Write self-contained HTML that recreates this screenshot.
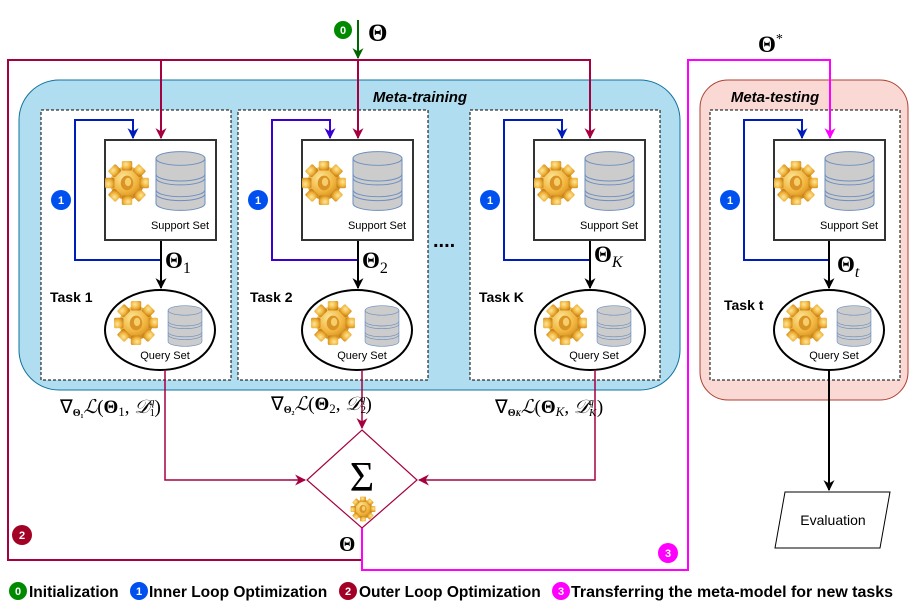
<!DOCTYPE html>
<html><head><meta charset="utf-8"><style>
body{margin:0;background:#fff}
svg{display:block;font-family:"Liberation Sans",sans-serif}
.m{font-family:"Liberation Serif",serif}
</style></head><body>
<svg width="909" height="607" viewBox="0 0 909 607" xmlns="http://www.w3.org/2000/svg">
<defs>
<radialGradient id="gg" cx="40%" cy="35%" r="70%"><stop offset="0" stop-color="#fde79a"/><stop offset="0.6" stop-color="#f0b33a"/><stop offset="1" stop-color="#c9821a"/></radialGradient>
<symbol id="gear" viewBox="-22 -22 44 44">
<g fill="url(#gg)">
<circle r="16"/>
<g id="t"><rect x="-5" y="-21" width="10" height="9" rx="1.5"/></g>
<use href="#t" transform="rotate(45)"/><use href="#t" transform="rotate(90)"/><use href="#t" transform="rotate(135)"/><use href="#t" transform="rotate(180)"/><use href="#t" transform="rotate(225)"/><use href="#t" transform="rotate(270)"/><use href="#t" transform="rotate(315)"/>
</g>
<ellipse rx="6" ry="7" fill="#d99425"/><ellipse cx="1" cy="-1" rx="3" ry="4" fill="#f6cf6b"/>
</symbol>
<symbol id="db" viewBox="0 0 52 62">
<path d="M1 8 A25 7 0 0 1 51 8 V54 A25 7 0 0 1 1 54 Z" fill="#cccccc" stroke="#6c8ebf"/>
<path d="M1 8 A25 7 0 0 0 51 8 M1 24 A25 7 0 0 0 51 24 M1 28 A25 7 0 0 0 51 28 M1 40 A25 7 0 0 0 51 40 M1 44 A25 7 0 0 0 51 44" fill="none" stroke="#6c8ebf"/>
</symbol>
<marker id="ak" viewBox="0 0 10 10" refX="9" refY="5" markerWidth="11" markerHeight="11" orient="auto" markerUnits="userSpaceOnUse"><path d="M0 0 L10 5 L0 10 L3 5Z" fill="#000"/></marker>
<marker id="ac" viewBox="0 0 10 10" refX="9" refY="5" markerWidth="11" markerHeight="11" orient="auto" markerUnits="userSpaceOnUse"><path d="M0 0 L10 5 L0 10 L3 5Z" fill="#a50040"/></marker>
<marker id="ab" viewBox="0 0 10 10" refX="9" refY="5" markerWidth="11" markerHeight="11" orient="auto" markerUnits="userSpaceOnUse"><path d="M0 0 L10 5 L0 10 L3 5Z" fill="#001dbc"/></marker>
<marker id="ap" viewBox="0 0 10 10" refX="9" refY="5" markerWidth="11" markerHeight="11" orient="auto" markerUnits="userSpaceOnUse"><path d="M0 0 L10 5 L0 10 L3 5Z" fill="#ff00ff"/></marker>
<marker id="agr" viewBox="0 0 10 10" refX="9" refY="5" markerWidth="11" markerHeight="11" orient="auto" markerUnits="userSpaceOnUse"><path d="M0 0 L10 5 L0 10 L3 5Z" fill="#006600"/></marker>
<marker id="av" viewBox="0 0 10 10" refX="9" refY="5" markerWidth="11" markerHeight="11" orient="auto" markerUnits="userSpaceOnUse"><path d="M0 0 L10 5 L0 10 L3 5Z" fill="#3a00d0"/></marker>
</defs>

<rect x="19" y="80" width="661" height="310" rx="40" fill="#b1ddf0" stroke="#10739e"/>
<rect x="700" y="80" width="208" height="320" rx="28" fill="#fad9d5" stroke="#ae4132"/>
<text x="420" y="102" font-size="15" font-weight="bold" font-style="italic" text-anchor="middle">Meta-training</text>
<text x="775" y="102" font-size="15" font-weight="bold" font-style="italic" text-anchor="middle">Meta-testing</text>

<g fill="#fff" stroke="#000" stroke-dasharray="3,2">
<rect x="41" y="110" width="190" height="270"/>
<rect x="238" y="110" width="190" height="270"/>
<rect x="470" y="110" width="190" height="270"/>
<rect x="710" y="110" width="190" height="270"/>
</g>
<text x="433" y="247" font-size="20" font-weight="bold">....</text>

<g fill="none" stroke="#a50040" stroke-width="2">
<path d="M362 528 V560 H8 V60 H590 V138" marker-end="url(#ac)"/>
<path d="M161 60 V138" marker-end="url(#ac)"/>
<path d="M358 60 V138" marker-end="url(#ac)"/>
</g>
<path d="M358 20 V58" stroke="#006600" stroke-width="2" marker-end="url(#agr)"/>
<circle cx="343" cy="30" r="9" fill="#008a00"/><text x="343" y="34" font-size="11" font-weight="bold" fill="#fff" text-anchor="middle">0</text>
<text x="368" y="41" font-size="25" font-weight="bold" class="m">Θ</text>

<path d="M161 260 H75 V120 H133 V138" fill="none" stroke="#001dbc" stroke-width="2" marker-end="url(#ab)"/>
<path d="M358 260 H272 V120 H330 V138" fill="none" stroke="#3a00d0" stroke-width="2" marker-end="url(#av)"/>
<path d="M590 260 H504 V120 H562 V138" fill="none" stroke="#001dbc" stroke-width="2" marker-end="url(#ab)"/>
<path d="M829 260 H744 V120 H802 V138" fill="none" stroke="#001dbc" stroke-width="2" marker-end="url(#ab)"/>

<g stroke="#000" stroke-width="2" fill="none">
<path d="M161 240 V288" marker-end="url(#ak)"/>
<path d="M358 240 V288" marker-end="url(#ak)"/>
<path d="M590 240 V288" marker-end="url(#ak)"/>
<path d="M829 240 V288" marker-end="url(#ak)"/>
<path d="M829 370 V490" marker-end="url(#ak)"/>
</g>

<g fill="#fff" stroke="#333" stroke-width="2">
<rect x="105" y="140" width="111" height="100"/>
<rect x="302" y="140" width="111" height="100"/>
<rect x="534" y="140" width="111" height="100"/>
<rect x="774" y="140" width="111" height="100"/>
<ellipse cx="160" cy="330" rx="55" ry="40" stroke="#000"/>
<ellipse cx="357" cy="330" rx="55" ry="40" stroke="#000"/>
<ellipse cx="590" cy="330" rx="55" ry="40" stroke="#000"/>
<ellipse cx="829" cy="330" rx="55" ry="40" stroke="#000"/>
</g>

<g font-size="11" text-anchor="middle">
<use href="#gear" x="104" y="156" width="46" height="54"/><use href="#db" x="155" y="150" width="51" height="62"/><text x="180" y="229">Support Set</text>
<use href="#gear" x="301" y="156" width="46" height="54"/><use href="#db" x="352" y="150" width="51" height="62"/><text x="377" y="229">Support Set</text>
<use href="#gear" x="533" y="156" width="46" height="54"/><use href="#db" x="584" y="150" width="51" height="62"/><text x="609" y="229">Support Set</text>
<use href="#gear" x="773" y="156" width="46" height="54"/><use href="#db" x="824" y="150" width="51" height="62"/><text x="849" y="229">Support Set</text>

<use href="#gear" x="113" y="296" width="46" height="54"/><use href="#db" x="165" y="305" width="40" height="42"/><text x="165" y="359">Query Set</text>
<use href="#gear" x="310" y="296" width="46" height="54"/><use href="#db" x="362" y="305" width="40" height="42"/><text x="362" y="359">Query Set</text>
<use href="#gear" x="542" y="296" width="46" height="54"/><use href="#db" x="594" y="305" width="40" height="42"/><text x="594" y="359">Query Set</text>
<use href="#gear" x="782" y="296" width="46" height="54"/><use href="#db" x="834" y="305" width="40" height="42"/><text x="834" y="359">Query Set</text>
</g>

<g font-size="14" font-weight="bold">
<text x="50" y="302">Task 1</text><text x="250" y="302">Task 2</text><text x="479" y="302">Task K</text><text x="724" y="310">Task t</text>
</g>
<g class="m" font-size="23">
<text x="165" y="268" font-weight="bold">Θ<tspan font-weight="normal" font-size="16" dy="5">1</tspan></text>
<text x="362" y="268" font-weight="bold">Θ<tspan font-weight="normal" font-size="16" dy="5">2</tspan></text>
<text x="594" y="262" font-weight="bold">Θ<tspan font-weight="normal" font-style="italic" font-size="16" dy="5">K</tspan></text>
<text x="837" y="272" font-weight="bold">Θ<tspan font-weight="normal" font-style="italic" font-size="16" dy="5">t</tspan></text>
<text x="758" y="52" font-weight="bold">Θ<tspan font-weight="normal" font-size="14" dy="-9">*</tspan></text>
<text x="339" y="551" font-weight="bold" font-size="21">Θ</text>
</g>

<g font-size="11" font-weight="bold" text-anchor="middle">
<circle cx="61" cy="200" r="10" fill="#0050ef"/><text x="61" y="204" fill="#fff">1</text>
<circle cx="258" cy="200" r="10" fill="#0050ef"/><text x="258" y="204" fill="#fff">1</text>
<circle cx="490" cy="200" r="10" fill="#0050ef"/><text x="490" y="204" fill="#fff">1</text>
<circle cx="730" cy="200" r="10" fill="#0050ef"/><text x="730" y="204" fill="#fff">1</text>
<circle cx="22" cy="535" r="10" fill="#a20025"/><text x="22" y="539" fill="#fff">2</text>
<circle cx="668" cy="553" r="10" fill="#ff00ff"/><text x="668" y="557" fill="#fff">3</text>
</g>

<g fill="none" stroke="#a50040" stroke-width="1.5">
<path d="M165 370 V480 H305" marker-end="url(#ac)"/>
<path d="M362 370 V428" marker-end="url(#ac)"/>
<path d="M595 370 V480 H419" marker-end="url(#ac)"/>
</g>
<path d="M362 430 L417 480 L362 528 L307 480 Z" fill="#fff" stroke="#a50040" stroke-width="1.2"/>
<text x="362" y="491" class="m" font-size="42" text-anchor="middle">Σ</text>
<use href="#gear" x="350" y="494" width="26" height="30"/>

<path d="M362 528 V570 H688 V60 H830 V138" fill="none" stroke="#ff00ff" stroke-width="2" marker-end="url(#ap)"/>

<g class="m" font-size="19">
<text x="60" y="413">∇<tspan font-size="10" font-weight="bold" dy="3">Θ₁</tspan><tspan dy="-3" font-style="italic">ℒ</tspan>(<tspan font-weight="bold">Θ</tspan><tspan font-size="13" dy="3">1</tspan><tspan dy="-3">, </tspan><tspan font-style="italic">𝒟</tspan><tspan font-size="11" dy="3">1</tspan><tspan font-size="11" dx="-6" dy="-11" font-style="italic">q</tspan><tspan dy="8">)</tspan></text>
<text x="271" y="410">∇<tspan font-size="10" font-weight="bold" dy="3">Θ₂</tspan><tspan dy="-3" font-style="italic">ℒ</tspan>(<tspan font-weight="bold">Θ</tspan><tspan font-size="13" dy="3">2</tspan><tspan dy="-3">, </tspan><tspan font-style="italic">𝒟</tspan><tspan font-size="11" dy="3">2</tspan><tspan font-size="11" dx="-6" dy="-11" font-style="italic">q</tspan><tspan dy="8">)</tspan></text>
<text x="495" y="413">∇<tspan font-size="10" font-weight="bold" dy="3">Θ<tspan font-style="italic" font-size="8">K</tspan></tspan><tspan dy="-3" font-style="italic">ℒ</tspan>(<tspan font-weight="bold">Θ</tspan><tspan font-size="13" font-style="italic" dy="3">K</tspan><tspan dy="-3">, </tspan><tspan font-style="italic">𝒟</tspan><tspan font-size="11" font-style="italic" dy="3">K</tspan><tspan font-size="11" dx="-8" dy="-11" font-style="italic">q</tspan><tspan dx="3" dy="8">)</tspan></text>
</g>

<path d="M785 492 H890 L880 548 H775 Z" fill="#fff" stroke="#000"/>
<text x="833" y="525" font-size="14" text-anchor="middle">Evaluation</text>

<g font-size="15.5" font-weight="bold">
<circle cx="18" cy="591" r="9" fill="#008a00"/><text x="18" y="595" font-size="11" fill="#fff" text-anchor="middle">0</text>
<text x="29" y="597">Initialization</text>
<circle cx="139" cy="591" r="9" fill="#0050ef"/><text x="139" y="595" font-size="11" fill="#fff" text-anchor="middle">1</text>
<text x="149" y="597">Inner Loop Optimization</text>
<circle cx="348" cy="591" r="9" fill="#a20025"/><text x="348" y="595" font-size="11" fill="#fff" text-anchor="middle">2</text>
<text x="359" y="597">Outer Loop Optimization</text>
<circle cx="561" cy="591" r="9" fill="#ff00ff"/><text x="561" y="595" font-size="11" fill="#fff" text-anchor="middle">3</text>
<text x="571" y="597" textLength="322" lengthAdjust="spacingAndGlyphs">Transferring the meta-model for new tasks</text>
</g>
</svg>
</body></html>
